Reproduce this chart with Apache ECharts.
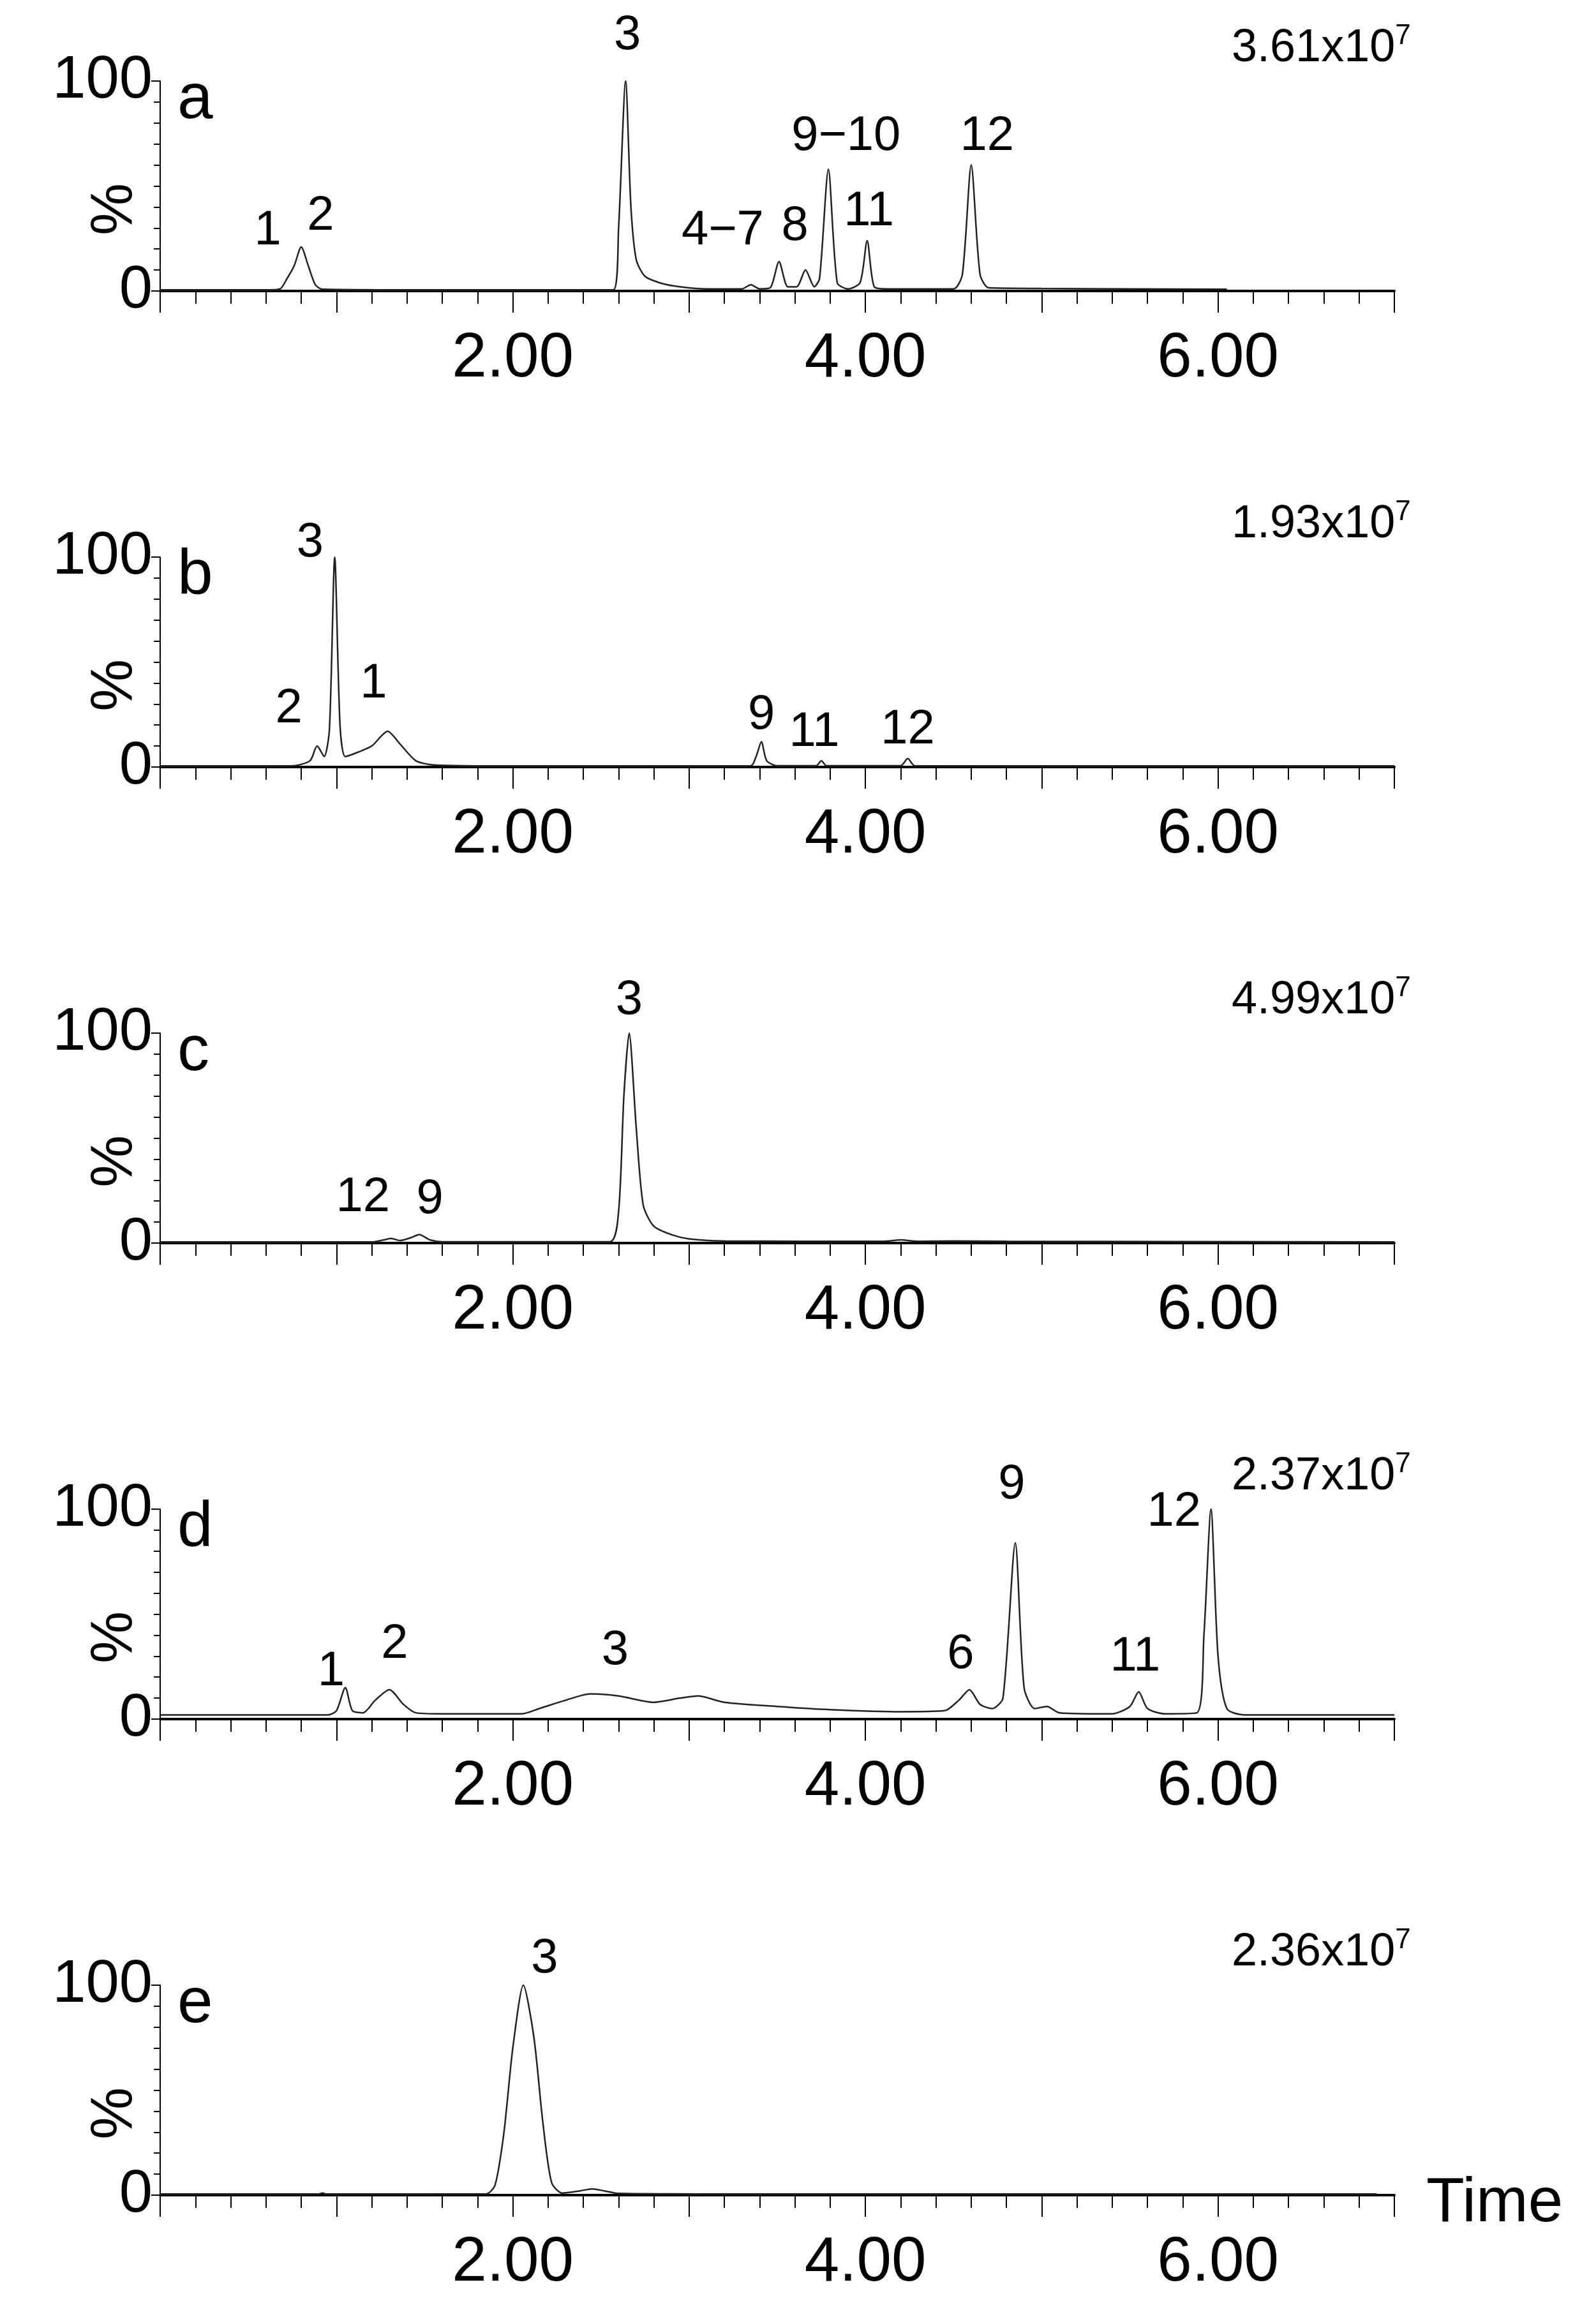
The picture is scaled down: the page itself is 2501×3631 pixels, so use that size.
<!DOCTYPE html>
<html><head><meta charset="utf-8">
<script src="https://cdn.jsdelivr.net/npm/echarts@6/dist/echarts.min.js"></script>
<style>body{margin:0;background:#fff}#c{width:2501px;height:3631px}</style></head>
<body><div id="c"></div>
<script>
const panelNames = ['a','b','c','d','e'];
const scaleTexts = ['3.61x10','1.93x10','4.99x10','2.37x10','2.36x10'];
const xTickLabels = ['2.00','4.00','6.00'];
const traceA = [[0,0.5],[0.6,0.5],[0.68,1],[0.72,6],[0.76,12],[0.8,21],[0.84,12],[0.88,3],[0.92,0.8],[1.5,0.5],[2.57,0.5],[2.6,30],[2.64,100],[2.67,40],[2.7,15],[2.75,7],[2.85,3.5],[2.95,2],[3.1,1],[3.3,1],[3.35,3],[3.4,1],[3.46,1.5],[3.51,14],[3.56,2],[3.61,2],[3.66,10],[3.71,2],[3.74,6],[3.79,58],[3.84,4],[3.9,1],[3.97,4],[4.01,24],[4.05,2],[4.12,1],[4.5,1],[4.55,8],[4.6,60],[4.65,8],[4.7,1.5],[5.0,1.2],[5.5,1],[6.05,0.8]];
const traceB = [[0,0.5],[0.75,0.6],[0.85,3],[0.89,10],[0.93,5],[0.96,18],[0.99,100],[1.02,20],[1.05,5],[1.12,7],[1.2,10],[1.29,17],[1.36,11],[1.45,3],[1.55,1],[2.0,0.5],[3.35,0.6],[3.38,5],[3.41,12],[3.44,3],[3.5,0.6],[3.72,0.6],[3.75,3],[3.78,0.6],[4.2,0.6],[4.24,4],[4.28,0.6],[7.0,0.5]];
const traceC = [[0,0.5],[1.2,0.5],[1.27,1.5],[1.31,2.2],[1.36,1.2],[1.42,2.5],[1.47,4],[1.53,1.5],[1.6,0.6],[2.55,0.6],[2.6,15],[2.63,70],[2.66,100],[2.7,55],[2.74,18],[2.8,8],[2.9,4],[3.0,2],[3.2,1],[4.1,0.8],[4.2,1.5],[4.3,0.8],[4.5,1],[4.8,0.8],[7.0,0.5]];
const traceD = [[0,2],[0.95,2],[1.0,4],[1.05,15],[1.09,4],[1.15,3],[1.22,9],[1.3,14],[1.38,7],[1.45,3],[1.6,2.5],[2.05,2.5],[2.15,5],[2.3,9],[2.44,12],[2.6,11],[2.8,8],[2.95,10],[3.05,11],[3.2,8],[3.5,6],[3.8,4.5],[4.2,3.5],[4.45,4],[4.53,9],[4.59,14],[4.65,7],[4.72,5],[4.78,10],[4.85,84],[4.9,15],[4.96,5],[5.03,6],[5.1,3],[5.4,2.5],[5.5,6],[5.55,13],[5.6,5],[5.7,2.5],[5.88,3],[5.92,40],[5.96,100],[6.0,30],[6.05,5],[6.15,2],[7.0,2]];
const traceE = [[0,0.5],[0.9,0.5],[0.92,1],[0.94,0.5],[1.85,0.6],[1.9,5],[1.95,30],[2.0,70],[2.06,100],[2.12,75],[2.17,35],[2.22,6],[2.28,1],[2.38,2],[2.45,3],[2.52,2],[2.6,0.8],[2.9,0.6],[3.2,0.5],[6.9,0.5]];
const traces = [traceA, traceB, traceC, traceD, traceE];
const peakLabels = [
 [['1',0.61,17],['2',0.91,24],['3',2.65,110],['4\u22127',3.19,17],['8',3.6,19],['9\u221210',3.89,62],['11',4.02,26],['12',4.69,62]],
 [['3',0.85,95],['2',0.73,16],['1',1.21,28],['9',3.41,13],['11',3.71,5],['12',4.24,6]],
 [['12',1.15,10],['9',1.53,9],['3',2.66,104]],
 [['1',0.97,11],['2',1.33,24],['3',2.58,21],['6',4.54,19],['9',4.83,100],['11',5.53,18],['12',5.75,87]],
 [['3',2.18,101]]
];
const chart = echarts.init(document.getElementById('c'));
const grids=[], xAxes=[], yAxes=[], series=[], graphics=[];
const font = 'Liberation Sans, Arial, sans-serif';
for (let i=0;i<5;i++){
  const top = 127 + 746*i;
  grids.push({left:251, right:316, top:top, height:329});
  xAxes.push({gridIndex:i, type:'value', min:0, max:7, interval:1,
    axisLine:{onZero:false, lineStyle:{color:'#000', width:4}},
    axisTick:{length:34, lineStyle:{color:'#000', width:2}},
    minorTick:{show:true, splitNumber:5, length:20, lineStyle:{color:'#000', width:2}},
    splitLine:{show:false},
    axisLabel:{margin:58, fontSize:98, color:'#000', fontFamily:font,
      formatter:v=>{const s=v.toFixed(2);return xTickLabels.includes(s)?s:'';}}});
  yAxes.push({gridIndex:i, type:'value', min:0, max:100, interval:100,
    axisLine:{show:true, lineStyle:{color:'#000', width:2}},
    axisTick:{length:14, lineStyle:{color:'#000', width:2}},
    minorTick:{show:true, splitNumber:10, length:10, lineStyle:{color:'#000', width:2}},
    splitLine:{show:false},
    axisLabel:{margin:12, fontSize:94, color:'#000', fontFamily:font}});
  series.push({type:'line', xAxisIndex:i, yAxisIndex:i, data:traces[i], symbol:'none',
    smooth:0.25, lineStyle:{color:'#222', width:2.5}, clip:false});
  const base = top+329;
  graphics.push({type:'text', left:135, top:top+160, rotation:Math.PI/2, style:{text:'%', fontSize:92, fill:'#000', font:'92px '+font}});
  graphics.push({type:'text', left:278, top:top-20, style:{text:panelNames[i], fontSize:100, fill:'#000', font:'100px '+font}});
  graphics.push({type:'text', left:1930, top:top-92, style:{text:'{a|'+scaleTexts[i]+'}{s|7}', rich:{a:{fontSize:72,fontFamily:font,fill:'#000'},s:{fontSize:44,fontFamily:font,fill:'#000',verticalAlign:'top',padding:[0,0,38,0]}}}});
  peakLabels[i].forEach(([t,tx,p])=>{
    const x = 251 + tx/7*1934;
    const y = base - p/100*329;
    graphics.push({type:'text', x:x, y:y, style:{text:t, fontSize:76, fill:'#000', font:'76px '+font, textAlign:'center', textVerticalAlign:'bottom'}});
  });
}
graphics.push({type:'text', left:2235, top:3405, style:{text:'Time', fontSize:98, fill:'#000', font:'98px '+font}});
chart.setOption({animation:false, backgroundColor:'#fff', grid:grids, xAxis:xAxes, yAxis:yAxes, series:series, graphic:graphics});
</script></body></html>
